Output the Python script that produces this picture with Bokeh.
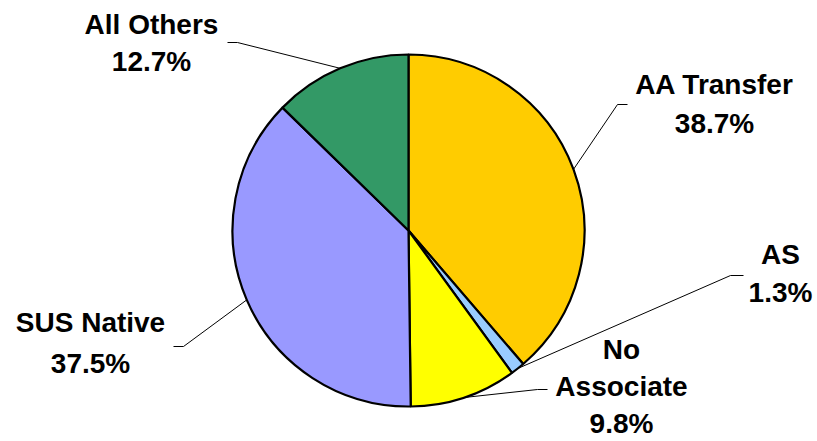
import numpy as np
from bokeh.plotting import figure
from bokeh.models import Range1d, ColumnDataSource
from bokeh.core.properties import value
from bokeh.embed import file_html
from bokeh.resources import INLINE

# ---- data ----
categories = ["AA Transfer", "AS", "No Associate", "SUS Native", "All Others"]
shares = [38.7, 1.3, 9.8, 37.5, 12.7]
name_lines = [["AA Transfer"], ["AS"], ["No", "Associate"], ["SUS Native"], ["All Others"]]
colors = ["#FFCC00", "#99CCFF", "#FFFF00", "#9999FF", "#339966"]

# ---- layout (pixel coordinates, y downwards) ----
W, H = 817, 441
CX, CY, R = 408, 230, 176
label_x = [714, 780, 621, 90, 151]
label_first_baseline = [95, 265, 360, 333, 35]
line_gap = [39, 38, 37, 41, 37]
BASE_SHIFT = -11
stubs = [(627, 617, 104), (743, 730, 275), (547, 537, 389), (173, 183, 346), (227, 237, 42)]

p = figure(width=W, height=H, x_range=Range1d(0, W), y_range=Range1d(0, H),
           output_backend="svg", toolbar_location=None, min_border=0)
p.axis.visible = False
p.grid.visible = False
p.outline_line_color = None
p.background_fill_color = "white"
p.border_fill_color = "white"

fr = np.array(shares) / sum(shares)
cum = np.concatenate([[0], np.cumsum(fr)])
start = np.pi / 2 - 2 * np.pi * cum[:-1]
end = np.pi / 2 - 2 * np.pi * cum[1:]
src = ColumnDataSource(dict(x=[CX] * len(shares), y=[H - CY] * len(shares),
                            start=start, end=end, color=colors, cat=categories))
p.wedge(x="x", y="y", radius=R, start_angle="start", end_angle="end", direction="clock",
        fill_color="color", line_color="black", line_width=2.2, source=src)

# leader lines: from stub to pie edge at slice mid-angle
mid = 2 * np.pi * (cum[:-1] + cum[1:]) / 2
for i in range(len(shares)):
    ex = CX + R * np.sin(mid[i])
    ey = CY - R * np.cos(mid[i])
    x0, x1, ys = stubs[i]
    p.line([x0, x1, ex], [H - ys, H - ys, H - ey], line_color="black", line_width=1)

# labels
tx, ty, tt = [], [], []
for i in range(len(shares)):
    lines = name_lines[i] + [f"{shares[i]:.1f}%"]
    for j, t in enumerate(lines):
        tx.append(label_x[i])
        ty.append(H - (label_first_baseline[i] + j * line_gap[i] + BASE_SHIFT))
        tt.append(t)
p.text(x=tx, y=ty, text=tt, text_font=value("Liberation Sans"), text_font_style="bold",
       text_font_size="28px", text_align="center", text_baseline="alphabetic", text_color="black")

open("out.html", "w").write(file_html(p, INLINE))
